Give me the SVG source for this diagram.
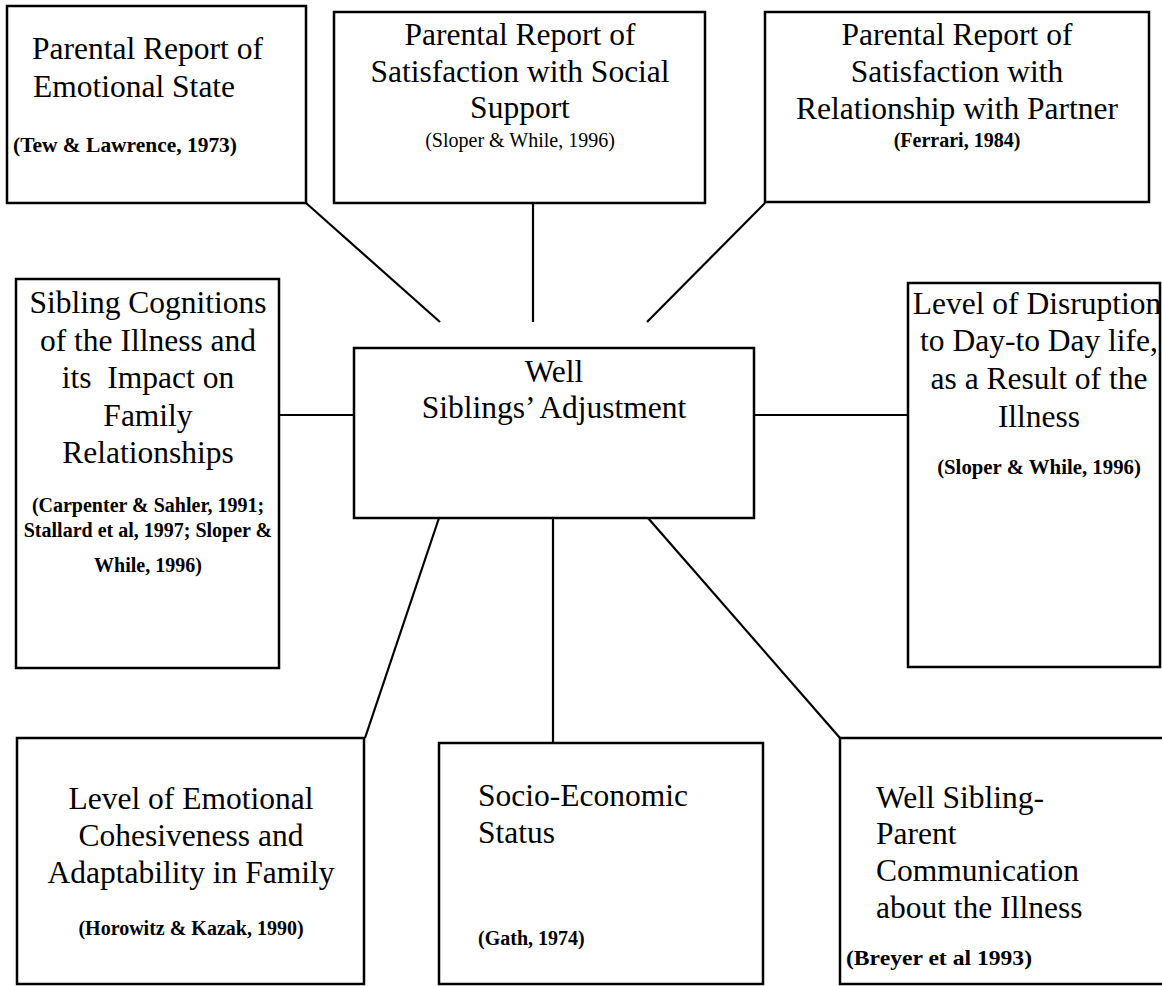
<svg xmlns="http://www.w3.org/2000/svg" width="1162" height="986" viewBox="0 0 1162 986">
<style>
.box{fill:#fff;stroke:#000;stroke-width:2.5}
.t{font-family:"Liberation Serif","Times New Roman",serif;font-size:31.5px;fill:#000}
.c{font-family:"Liberation Serif","Times New Roman",serif;font-size:20px;font-weight:bold;fill:#000}
.cr{font-family:"Liberation Serif","Times New Roman",serif;font-size:20px;fill:#000}
.m{text-anchor:middle}
.conn line{stroke:#000;stroke-width:2.2}
</style>
<rect width="1162" height="986" fill="#fff"/>
<g class="conn" id="connectors">
<line x1="306" y1="203" x2="440" y2="322"/>
<line x1="533" y1="203" x2="533" y2="322"/>
<line x1="765" y1="203" x2="647" y2="322"/>
<line x1="279" y1="415" x2="354" y2="415"/>
<line x1="754" y1="415" x2="908" y2="415"/>
<line x1="439" y1="518" x2="365" y2="738"/>
<line x1="553" y1="518" x2="553" y2="743"/>
<line x1="648" y1="518" x2="840" y2="738"/>
</g>
<g id="n-emotional">
<rect class="box" x="7" y="6" width="299" height="197"/>
<text class="t" x="32" y="59">Parental Report of</text>
<text class="t" x="33" y="97">Emotional State</text>
<text class="c" x="13" y="152" style="font-size:21px" textLength="224" lengthAdjust="spacingAndGlyphs">(Tew &amp; Lawrence, 1973)</text>
</g>
<g id="n-social">
<rect class="box" x="334" y="12" width="371" height="191"/>
<text class="t m" x="520" y="45">Parental Report of</text>
<text class="t m" x="520" y="82">Satisfaction with Social</text>
<text class="t m" x="520" y="118">Support</text>
<text class="cr m" x="520" y="147">(Sloper &amp; While, 1996)</text>
</g>
<g id="n-partner">
<rect class="box" x="765" y="12" width="384" height="190"/>
<text class="t m" x="957" y="45">Parental Report of</text>
<text class="t m" x="957" y="82">Satisfaction with</text>
<text class="t m" x="957" y="119">Relationship with Partner</text>
<text class="c m" x="957" y="147">(Ferrari, 1984)</text>
</g>
<g id="n-cognitions">
<rect class="box" x="16" y="279" width="263" height="389"/>
<text class="t m" x="148" y="313">Sibling Cognitions</text>
<text class="t m" x="148" y="351">of the Illness and</text>
<text class="t m" x="148" y="388" xml:space="preserve">its  Impact on</text>
<text class="t m" x="148" y="426">Family</text>
<text class="t m" x="148" y="463">Relationships</text>
<text class="c m" x="148" y="512">(Carpenter &amp; Sahler, 1991;</text>
<text class="c m" x="148" y="537">Stallard et al, 1997; Sloper &amp;</text>
<text class="c m" x="148" y="572">While, 1996)</text>
</g>
<g id="n-center">
<rect class="box" x="354" y="348" width="400" height="170"/>
<text class="t m" x="554" y="382">Well</text>
<text class="t m" x="554" y="418">Siblings’ Adjustment</text>
</g>
<g id="n-disruption">
<rect class="box" x="908" y="283" width="252" height="384"/>
<text class="t m" x="1037" y="314">Level of Disruption</text>
<text class="t m" x="1039" y="351">to Day-to Day life,</text>
<text class="t m" x="1039" y="389">as a Result of the</text>
<text class="t m" x="1039" y="427">Illness</text>
<text class="c m" x="1039" y="474" style="font-size:20.8px">(Sloper &amp; While, 1996)</text>
</g>
<g id="n-cohesiveness">
<rect class="box" x="17" y="738" width="347" height="246"/>
<text class="t m" x="191" y="809">Level of Emotional</text>
<text class="t m" x="191" y="846">Cohesiveness and</text>
<text class="t m" x="191" y="883">Adaptability in Family</text>
<text class="c m" x="191" y="935">(Horowitz &amp; Kazak, 1990)</text>
</g>
<g id="n-ses">
<rect class="box" x="439" y="743" width="324" height="241"/>
<text class="t" x="478" y="806">Socio-Economic</text>
<text class="t" x="478" y="843">Status</text>
<text class="c" x="478" y="945">(Gath, 1974)</text>
</g>
<g id="n-communication">
<rect class="box" x="840" y="738" width="330" height="246"/>
<text class="t" x="876" y="808">Well Sibling-</text>
<text class="t" x="876" y="844">Parent</text>
<text class="t" x="876" y="881">Communication</text>
<text class="t" x="876" y="918">about the Illness</text>
<text class="c" x="846" y="965" style="font-size:21px" textLength="186" lengthAdjust="spacingAndGlyphs">(Breyer et al 1993)</text>
</g>
</svg>
